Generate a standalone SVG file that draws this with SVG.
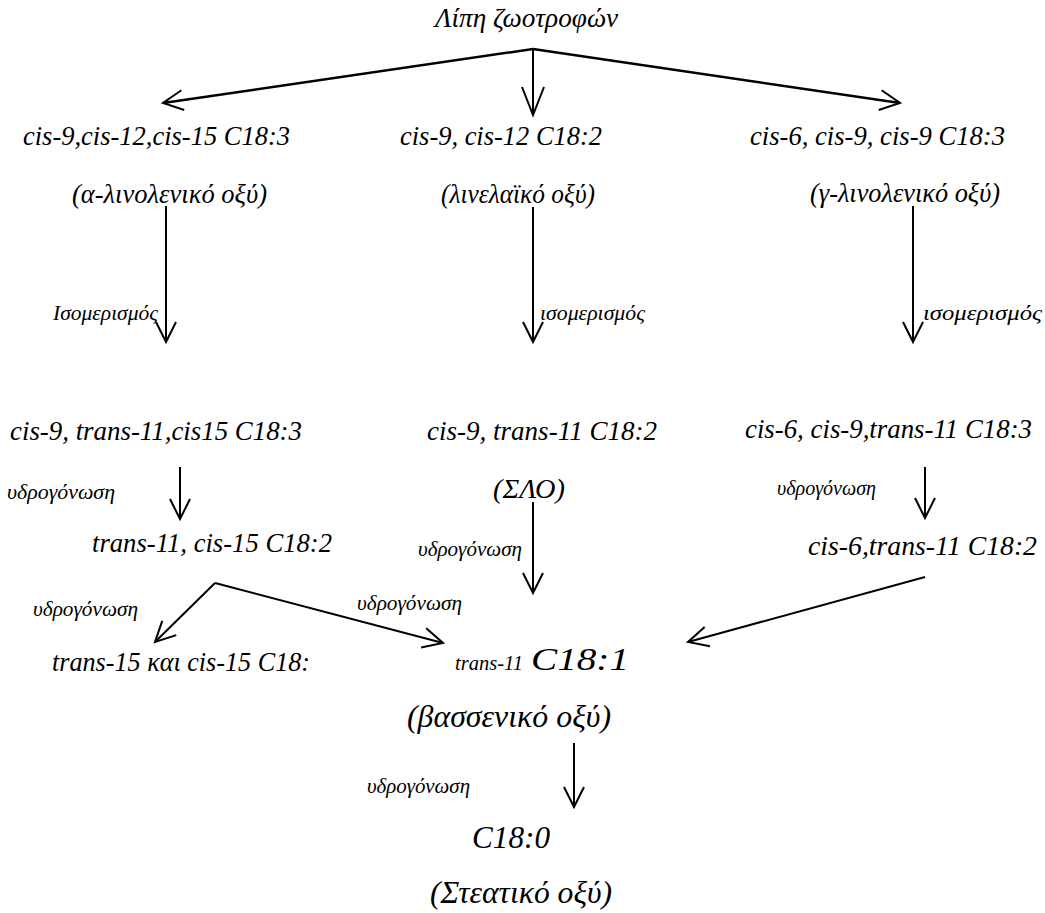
<svg xmlns="http://www.w3.org/2000/svg" width="1045" height="913" viewBox="0 0 1045 913">
<style>
text{font-family:'Liberation Serif','Times New Roman',serif;font-style:italic;fill:#000;font-size:26.5px}
text.m{font-size:27px}
text.s{font-size:21px}
text.b{font-size:31.5px}
.c{stroke:#000;stroke-width:2;fill:none}
.c.w{stroke-width:2.5}
</style>
<defs>
<marker id="arr" markerUnits="userSpaceOnUse" markerWidth="24" markerHeight="24" refX="20" refY="10" orient="auto" overflow="visible">
<path d="M0,0 L20,10 L0,20" fill="none" stroke="#000" stroke-width="2"/>
</marker>
<marker id="arrL" markerUnits="userSpaceOnUse" markerWidth="30" markerHeight="24" refX="28" refY="11" orient="auto" overflow="visible">
<path d="M0,0 L28,11 L0,22" fill="none" stroke="#000" stroke-width="2"/>
</marker>
</defs>
<rect width="1045" height="913" fill="#fff"/>
<g id="connectors">
<line class="c w" x1="533" y1="49" x2="163" y2="103" marker-end="url(#arr)"/>
<line class="c" x1="533" y1="49" x2="533" y2="115" marker-end="url(#arrL)"/>
<line class="c w" x1="533" y1="49" x2="900" y2="103" marker-end="url(#arr)"/>
<line class="c" x1="166" y1="206" x2="166" y2="342" marker-end="url(#arr)"/>
<line class="c" x1="533" y1="207" x2="533" y2="342" marker-end="url(#arr)"/>
<line class="c" x1="913" y1="206" x2="913" y2="342" marker-end="url(#arr)"/>
<line class="c" x1="180" y1="467" x2="180" y2="519" marker-end="url(#arr)"/>
<line class="c" x1="925" y1="467" x2="925" y2="518" marker-end="url(#arr)"/>
<line class="c" x1="533" y1="502" x2="533" y2="593" marker-end="url(#arr)"/>
<line class="c" x1="215" y1="583" x2="155" y2="642" marker-end="url(#arr)"/>
<line class="c" x1="215" y1="583" x2="443" y2="643" marker-end="url(#arr)"/>
<line class="c" x1="925" y1="577" x2="688" y2="642" marker-end="url(#arr)"/>
<line class="c" x1="574" y1="743" x2="574" y2="807" marker-end="url(#arr)"/>
</g>
<g id="labels">
<text class="s" x="53" y="320" textLength="105" lengthAdjust="spacingAndGlyphs">Ισομερισμός</text>
<text class="s" x="540" y="320" textLength="105" lengthAdjust="spacingAndGlyphs">ισομερισμός</text>
<text class="s" x="923" y="320" font-size="23" textLength="119" lengthAdjust="spacingAndGlyphs">ισομερισμός</text>
<text class="s" x="7" y="499" textLength="108" lengthAdjust="spacingAndGlyphs">υδρογόνωση</text>
<text class="s" x="777" y="495" font-size="20" textLength="99" lengthAdjust="spacingAndGlyphs">υδρογόνωση</text>
<text class="s" x="418" y="556" textLength="104" lengthAdjust="spacingAndGlyphs">υδρογόνωση</text>
<text class="s" x="33" y="616" textLength="105" lengthAdjust="spacingAndGlyphs">υδρογόνωση</text>
<text class="s" x="357" y="610" textLength="105" lengthAdjust="spacingAndGlyphs">υδρογόνωση</text>
<text class="s" x="367" y="793" textLength="103" lengthAdjust="spacingAndGlyphs">υδρογόνωση</text>
</g>
<g id="n-lipi"><text x="435" y="27" textLength="183" lengthAdjust="spacingAndGlyphs">Λίπη ζωοτροφών</text></g>
<g id="n-ala">
<text x="23" y="145" textLength="267" lengthAdjust="spacingAndGlyphs">cis-9,cis-12,cis-15 C18:3</text>
<text x="72" y="203" textLength="195" lengthAdjust="spacingAndGlyphs">(α-λινολενικό οξύ)</text>
</g>
<g id="n-la">
<text x="400" y="145" textLength="202" lengthAdjust="spacingAndGlyphs">cis-9, cis-12 C18:2</text>
<text x="441" y="203" textLength="154" lengthAdjust="spacingAndGlyphs">(λινελαϊκό οξύ)</text>
</g>
<g id="n-gla">
<text x="750" y="145" textLength="255" lengthAdjust="spacingAndGlyphs">cis-6, cis-9, cis-9 C18:3</text>
<text x="810" y="202" textLength="190" lengthAdjust="spacingAndGlyphs">(γ-λινολενικό οξύ)</text>
</g>
<g id="n-c9t11c15"><text class="m" x="10" y="440" textLength="292" lengthAdjust="spacingAndGlyphs">cis-9, trans-11,cis15 C18:3</text></g>
<g id="n-cla">
<text class="m" x="427" y="440" textLength="230" lengthAdjust="spacingAndGlyphs">cis-9, trans-11 C18:2</text>
<text class="m" x="493" y="498" font-size="28" textLength="72" lengthAdjust="spacingAndGlyphs">(ΣΛΟ)</text>
</g>
<g id="n-c6c9t11"><text class="m" x="745" y="438" textLength="287" lengthAdjust="spacingAndGlyphs">cis-6, cis-9,trans-11 C18:3</text></g>
<g id="n-t11c15"><text class="m" x="92" y="552" textLength="240" lengthAdjust="spacingAndGlyphs">trans-11, cis-15 C18:2</text></g>
<g id="n-c6t11"><text class="m" x="808" y="555" textLength="229" lengthAdjust="spacingAndGlyphs">cis-6,trans-11 C18:2</text></g>
<g id="n-t15"><text class="m" x="52" y="671" textLength="258" lengthAdjust="spacingAndGlyphs">trans-15 και cis-15 C18:</text></g>
<g id="n-va">
<text class="s" x="455" y="670" textLength="68" lengthAdjust="spacingAndGlyphs">trans-11</text>
<text class="b" x="531" y="670" font-size="34" textLength="98" lengthAdjust="spacingAndGlyphs">C18:1</text>
<text class="b" x="407" y="727" textLength="204" lengthAdjust="spacingAndGlyphs">(βασσενικό οξύ)</text>
</g>
<g id="n-sa">
<text class="b" x="472" y="848" textLength="78" lengthAdjust="spacingAndGlyphs">C18:0</text>
<text class="b" x="430" y="903" textLength="182" lengthAdjust="spacingAndGlyphs">(Στεατικό οξύ)</text>
</g>
</svg>
